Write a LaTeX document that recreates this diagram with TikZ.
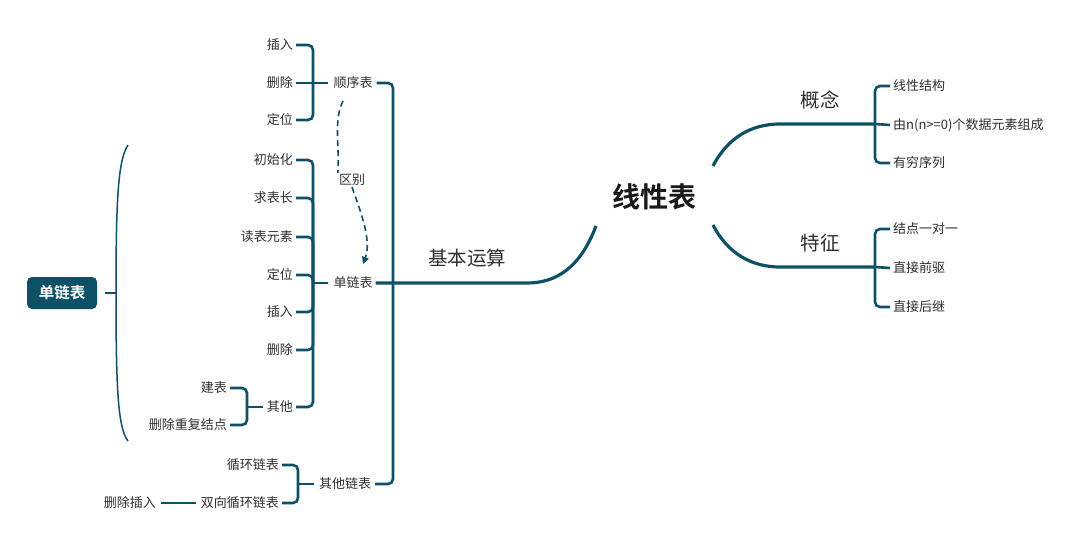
\documentclass[tikz,border=0pt]{standalone}
\usepackage{fontspec}
\newfontfamily\cjk[BoldFont={Noto Sans CJK SC Bold}]{Noto Sans CJK SC}
\usetikzlibrary{arrows.meta,calc}
\definecolor{teal}{HTML}{0E5066}
\definecolor{txt}{HTML}{2E2E2E}
\tikzset{
  lbl/.style={font=\cjk\fontsize{13}{15}\selectfont, text=txt, inner sep=1pt},
  lft/.style={lbl, anchor=east},
  rgt/.style={lbl, anchor=west},
  br/.style={draw=teal, line width=2.6pt, rounded corners=5pt},
  mainln/.style={draw=teal, line width=3.2pt},
  big/.style={font=\cjk\fontsize{19.5}{22}\selectfont, text=txt, inner sep=1pt},
}
\begin{document}
\begin{tikzpicture}[x=1pt,y=-1pt]
\useasboundingbox (0,0) rectangle (1089,551);
% root
\node[font=\cjk\bfseries\fontsize{28}{32}\selectfont, text=black!90, inner sep=1pt] (root) at (654,197) {线性表};
% right side
\coordinate (ua) at (713,166);
\coordinate (ub) at (780,124);
\coordinate (la) at (713,225);
\coordinate (lb) at (780,267);
\node[big] (gn) at (820,100) {概念};
\node[big] (tz) at (820,243) {特征};
\node[rgt] (r1) at (892,86) {线性结构};
\node[rgt] (r2) at (892,125) {由n(n>=0)个数据元素组成};
\node[rgt] (r3) at (892,163) {有穷序列};
\node[rgt] (r4) at (892,229) {结点一对一};
\node[rgt] (r5) at (892,268) {直接前驱};
\node[rgt] (r6) at (892,307) {直接后继};
\draw[mainln] (ua) .. controls (728,137) and (752,124) .. (ub) -- (875,124);
\draw[mainln] (la) .. controls (728,254) and (752,267) .. (lb) -- (875,267);
\draw[br] ([xshift=-2pt]r1.west) -| (875,124) |- ([xshift=-2pt]r3.west);
\draw[br] (875,124) -- ([xshift=-2pt]r2.west);
\draw[br] ([xshift=-2pt]r4.west) -| (875,267) |- ([xshift=-2pt]r6.west);
\draw[br] (875,267) -- ([xshift=-2pt]r5.west);
% left main
\node[big] (jb) at (467,258) {基本运算};
\node[lbl] (dl) at (353,283) {单链表};
\node[lbl] (sx) at (353,83) {顺序表};
\node[lbl] (qt) at (345,484) {其他链表};
\coordinate (ma) at (596,226);
\draw[mainln] (ma) .. controls (580,268) and (556,283) .. (527,283) -- ([xshift=2pt]dl.east);
\draw[br] ([xshift=3pt]sx.east) -| (393,283) |- ([xshift=3pt]qt.east);
% 顺序表 group
\node[lft] (s1) at (294,45) {插入};
\node[lft] (s2) at (294,83) {删除};
\node[lft] (s3) at (294,120) {定位};
\draw[br] ([xshift=2pt]s1.east) -| (313,83) |- ([xshift=2pt]s3.east);
\draw[br] ([xshift=2pt]s2.east) -- ([xshift=-4pt]sx.west);
% 单链表 group
\node[lft] (d1) at (294,160) {初始化};
\node[lft] (d2) at (294,198) {求表长};
\node[lft] (d3) at (294,237) {读表元素};
\node[lft] (d4) at (294,275) {定位};
\node[lft] (d5) at (294,312) {插入};
\node[lft] (d6) at (294,350) {删除};
\node[lft] (d7) at (294,407) {其他};
\draw[br] ([xshift=2pt]d1.east) -| (313,283) |- ([xshift=2pt]d7.east);
\foreach \n in {d2,d3,d4,d5,d6}
  \draw[br] ([xshift=2pt]\n.east) -| (313,283);
\draw[br] (313,283) -- ([xshift=-4pt]dl.west);
% 其他 group
\node[lft] (o1) at (228,388) {建表};
\node[lft] (o2) at (228,425) {删除重复结点};
\draw[br] ([xshift=2pt]o1.east) -| (247,407) |- ([xshift=2pt]o2.east);
\draw[br] (247,407) -- ([xshift=-3pt]d7.west);
% 其他链表 group
\node[lft] (q1) at (280,465) {循环链表};
\node[lft] (q2) at (280,503) {双向循环链表};
\node[lft] (q3) at (157,503) {删除插入};
\draw[br] ([xshift=2pt]q1.east) -| (298,484) |- ([xshift=2pt]q2.east);
\draw[br] (298,484) -- ([xshift=-4pt]qt.west);
\draw[br] ([xshift=4pt]q3.east) -- ([xshift=-4pt]q2.west);
% dashed relation
\node[lbl] (qb) at (352,180) {区别};
\draw[draw=teal, line width=1.6pt, dash pattern=on 6pt off 4pt, -{Triangle[length=7pt,width=7pt]}]
  (343,101) .. controls (333,120) and (340,150) .. (qb.north west)
  (qb.south) .. controls (360,210) and (372,240) .. (363,264);
% summary
\node[fill=teal, rounded corners=5pt, minimum width=70pt, minimum height=32pt, text=white, font=\cjk\bfseries\fontsize{15.5}{18}\selectfont, inner sep=0pt] (sum) at (62,293) {单链表};
\coordinate (bt) at (128,145);
\coordinate (bm) at (116,293);
\coordinate (bb) at (128,441);
\draw[teal, line width=1.5pt] ([xshift=8pt]sum.east) -- (bm);
\draw[teal, line width=1.5pt] (bt) .. controls (118,160) and (116,200) .. (bm) .. controls (116,390) and (118,428) .. (bb);
\end{tikzpicture}
\end{document}
